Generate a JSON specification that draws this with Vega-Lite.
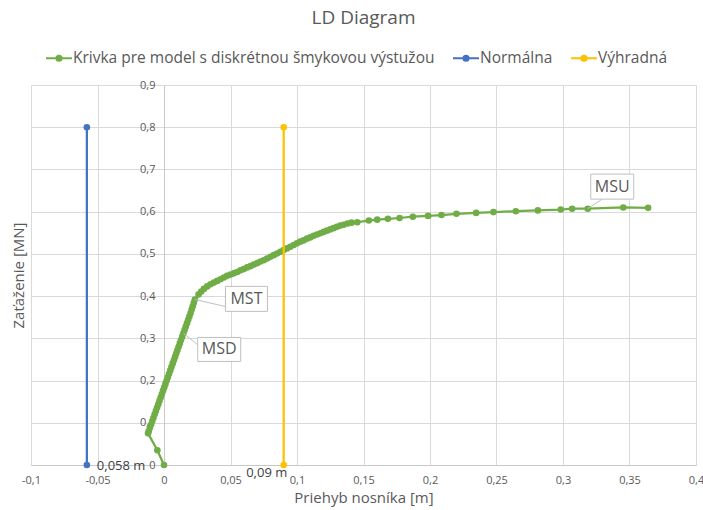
{
  "$schema": "https://vega.github.io/schema/vega-lite/v6.json",
  "autosize": {"type": "none"},
  "width": 665,
  "height": 380,
  "padding": {"left": 31, "top": 85, "right": 7, "bottom": 45},
  "background": "white",
  "title": {"text": "LD Diagram", "font": "Open Sans", "fontSize": 19, "fontWeight": "normal", "color": "#595959", "anchor": "middle", "frame": "group", "offset": 16},
  "config": {"view": {"stroke": null}, "font": "Open Sans"},
  "datasets": {
    "curve": [
      {"x": 0, "y": 0}, {"x": -0.005, "y": 0.035}, {"x": -0.012, "y": 0.075},
      {"x": -0.0115, "y": 0.080}, {"x": -0.0106, "y": 0.088}, {"x": -0.0097, "y": 0.096}, {"x": -0.0088, "y": 0.104},
      {"x": -0.0079, "y": 0.112}, {"x": -0.0070, "y": 0.120}, {"x": -0.0061, "y": 0.128}, {"x": -0.0052, "y": 0.136},
      {"x": -0.0043, "y": 0.144}, {"x": -0.0034, "y": 0.152}, {"x": -0.0025, "y": 0.160}, {"x": -0.0016, "y": 0.168},
      {"x": -0.0007, "y": 0.176}, {"x": 0.0002, "y": 0.184}, {"x": 0.0011, "y": 0.192}, {"x": 0.0020, "y": 0.200},
      {"x": 0.0029, "y": 0.208}, {"x": 0.0038, "y": 0.216}, {"x": 0.0047, "y": 0.224}, {"x": 0.0056, "y": 0.232},
      {"x": 0.0065, "y": 0.240}, {"x": 0.0074, "y": 0.248}, {"x": 0.0083, "y": 0.256}, {"x": 0.0092, "y": 0.264},
      {"x": 0.0101, "y": 0.272}, {"x": 0.0110, "y": 0.280}, {"x": 0.0119, "y": 0.288}, {"x": 0.0128, "y": 0.296},
      {"x": 0.0137, "y": 0.304}, {"x": 0.0146, "y": 0.312}, {"x": 0.0155, "y": 0.320}, {"x": 0.0164, "y": 0.328},
      {"x": 0.0173, "y": 0.336}, {"x": 0.0182, "y": 0.344}, {"x": 0.0191, "y": 0.352}, {"x": 0.0200, "y": 0.360},
      {"x": 0.0208, "y": 0.368}, {"x": 0.0216, "y": 0.376}, {"x": 0.0224, "y": 0.384}, {"x": 0.0232, "y": 0.392},
      {"x": 0.0260, "y": 0.404}, {"x": 0.0280, "y": 0.411}, {"x": 0.0300, "y": 0.417}, {"x": 0.0325, "y": 0.423},
      {"x": 0.0350, "y": 0.428}, {"x": 0.0375, "y": 0.432}, {"x": 0.0400, "y": 0.436}, {"x": 0.0425, "y": 0.440},
      {"x": 0.0450, "y": 0.444}, {"x": 0.0475, "y": 0.448}, {"x": 0.0500, "y": 0.451}, {"x": 0.0525, "y": 0.454},
      {"x": 0.0550, "y": 0.457}, {"x": 0.0575, "y": 0.461}, {"x": 0.0600, "y": 0.464}, {"x": 0.0625, "y": 0.468},
      {"x": 0.0650, "y": 0.471}, {"x": 0.0675, "y": 0.475}, {"x": 0.0700, "y": 0.478}, {"x": 0.0725, "y": 0.482},
      {"x": 0.0750, "y": 0.485}, {"x": 0.0775, "y": 0.489}, {"x": 0.0800, "y": 0.493}, {"x": 0.0825, "y": 0.497},
      {"x": 0.0850, "y": 0.501}, {"x": 0.0875, "y": 0.505}, {"x": 0.0900, "y": 0.509}, {"x": 0.0925, "y": 0.513},
      {"x": 0.0950, "y": 0.517}, {"x": 0.0975, "y": 0.521}, {"x": 0.1000, "y": 0.525}, {"x": 0.1025, "y": 0.529},
      {"x": 0.1050, "y": 0.532}, {"x": 0.1075, "y": 0.536}, {"x": 0.1100, "y": 0.539}, {"x": 0.1125, "y": 0.543},
      {"x": 0.1150, "y": 0.546}, {"x": 0.1175, "y": 0.549}, {"x": 0.1200, "y": 0.552}, {"x": 0.1225, "y": 0.555},
      {"x": 0.1250, "y": 0.558}, {"x": 0.1275, "y": 0.561}, {"x": 0.1300, "y": 0.564}, {"x": 0.1325, "y": 0.567},
      {"x": 0.1350, "y": 0.569}, {"x": 0.1380, "y": 0.572}, {"x": 0.1410, "y": 0.574}, {"x": 0.1453, "y": 0.575},
      {"x": 0.1540, "y": 0.579}, {"x": 0.1603, "y": 0.581}, {"x": 0.1683, "y": 0.583}, {"x": 0.1771, "y": 0.585},
      {"x": 0.1871, "y": 0.588}, {"x": 0.1986, "y": 0.590}, {"x": 0.2086, "y": 0.592}, {"x": 0.2199, "y": 0.595},
      {"x": 0.2347, "y": 0.597}, {"x": 0.2477, "y": 0.599}, {"x": 0.2645, "y": 0.601}, {"x": 0.2811, "y": 0.603},
      {"x": 0.2983, "y": 0.605}, {"x": 0.3069, "y": 0.607}, {"x": 0.3186, "y": 0.607}, {"x": 0.3453, "y": 0.610},
      {"x": 0.3640, "y": 0.609}
    ],
    "limits": [
      {"s": "Normálna", "x": -0.058, "y": 0}, {"s": "Normálna", "x": -0.058, "y": 0.8},
      {"s": "Výhradná", "x": 0.09, "y": 0}, {"s": "Výhradná", "x": 0.09, "y": 0.8}
    ],
    "ends": [
      {"t": "0,058 m", "x": -0.058, "y": 0},
      {"t": "0,09 m", "x": 0.09, "y": 0}
    ],
    "callouts": [
      {"t": "MST", "x": 0.0232, "y": 0.392},
      {"t": "MSD", "x": 0.0146, "y": 0.312},
      {"t": "MSU", "x": 0.3186, "y": 0.607}
    ]
  },
  "encoding": {
    "x": {
      "field": "x", "type": "quantitative",
      "scale": {"domain": [-0.1, 0.4], "nice": false, "zero": false},
      "axis": {
        "values": [-0.1, -0.05, 0, 0.05, 0.1, 0.15, 0.2, 0.25, 0.3, 0.35, 0.4],
        "labelExpr": "replace('' + datum.value, '.', ',')",
        "grid": true, "gridColor": "#D9D9D9", "gridWidth": 1,
        "domainColor": "#C8C8C8", "ticks": false, "tickSize": 0,
        "labelPadding": 9, "labelFont": "Open Sans", "labelFontSize": 11, "labelColor": "#595959",
        "labelFlush": false, "labelOverlap": false,
        "title": "Priehyb nosníka [m]", "titleFont": "Open Sans", "titleFontSize": 15, "titleFontWeight": "normal",
        "titleColor": "#595959", "titleBaseline": "middle", "titleY": 32
      }
    },
    "y": {
      "field": "y", "type": "quantitative",
      "scale": {"domain": [0, 0.9], "nice": false, "zero": false},
      "axis": {
        "values": [0, 0.1, 0.2, 0.3, 0.4, 0.5, 0.6, 0.7, 0.8, 0.9],
        "labelExpr": "replace('' + datum.value, '.', ',')",
        "offset": -133,
        "grid": true, "gridColor": "#D9D9D9", "gridWidth": 1,
        "domainColor": "#C8C8C8", "ticks": false, "tickSize": 0,
        "labelPadding": 9, "labelFont": "Open Sans", "labelFontSize": 11, "labelColor": "#595959",
        "labelFlush": false, "labelOverlap": false,
        "title": "Zaťaženie [MN]", "titleFont": "Open Sans", "titleFontSize": 15, "titleFontWeight": "normal",
        "titleColor": "#595959", "titleAngle": 270, "titleAlign": "center", "titleBaseline": "middle",
        "titleX": -146, "titleY": 190
      }
    }
  },
  "layer": [
    {
      "data": {"name": "curve"},
      "mark": {"type": "line", "strokeWidth": 2.25, "point": {"filled": true, "size": 44, "opacity": 1}},
      "encoding": {
        "order": {"value": null},
        "color": {
          "datum": "Krivka pre model s diskrétnou šmykovou výstužou", "type": "nominal",
          "scale": {"domain": ["Krivka pre model s diskrétnou šmykovou výstužou", "Normálna", "Výhradná"], "range": ["#70AD47", "#4472C4", "#FFC000"]},
          "legend": {
            "orient": "none", "legendX": 14, "legendY": -41, "direction": "horizontal", "title": null,
            "symbolType": "M-1,0L1,0M-0.2,0A0.2,0.2,0,1,0,0.2,0A0.2,0.2,0,1,0,-0.2,0Z",
            "symbolSize": 676, "symbolStrokeWidth": 2, "symbolOpacity": 1,
            "labelFont": "Open Sans", "labelFontSize": 15.5, "labelColor": "#595959", "labelLimit": 600,
            "columnPadding": 14, "labelOffset": 0, "padding": 0,
            "encode": {"symbols": {"update": {"fill": {"scale": "color", "field": "value"}, "stroke": {"scale": "color", "field": "value"}}}}
          }
        }
      }
    },
    {
      "data": {"name": "limits"},
      "mark": {"type": "line", "strokeWidth": 2.25, "point": {"filled": true, "size": 44, "opacity": 1}},
      "encoding": {
        "color": {
          "field": "s", "type": "nominal",
          "scale": {"domain": ["Krivka pre model s diskrétnou šmykovou výstužou", "Normálna", "Výhradná"], "range": ["#70AD47", "#4472C4", "#FFC000"]},
          "legend": {
            "orient": "none", "legendX": 14, "legendY": -41, "direction": "horizontal", "title": null,
            "symbolType": "M-1,0L1,0M-0.2,0A0.2,0.2,0,1,0,0.2,0A0.2,0.2,0,1,0,-0.2,0Z",
            "symbolSize": 676, "symbolStrokeWidth": 2, "symbolOpacity": 1,
            "labelFont": "Open Sans", "labelFontSize": 15.5, "labelColor": "#595959", "labelLimit": 600,
            "columnPadding": 14, "labelOffset": 0, "padding": 0,
            "encode": {"symbols": {"update": {"fill": {"scale": "color", "field": "value"}, "stroke": {"scale": "color", "field": "value"}}}}
          }
        },
        "detail": {"field": "s"}
      }
    },
    {
      "data": {"name": "ends"},
      "transform": [{"filter": "datum.t == '0,058 m'"}],
      "mark": {"type": "text", "align": "left", "baseline": "middle", "dx": 10, "dy": 1, "font": "Open Sans", "fontSize": 13, "color": "#404040"},
      "encoding": {"text": {"field": "t"}}
    },
    {
      "data": {"name": "ends"},
      "transform": [{"filter": "datum.t == '0,09 m'"}],
      "mark": {"type": "text", "align": "center", "baseline": "middle", "dx": -17, "dy": 8, "font": "Open Sans", "fontSize": 13, "color": "#404040"},
      "encoding": {"text": {"field": "t"}}
    },
    {
      "data": {"name": "callouts"},
      "transform": [{"filter": "datum.t == 'MST'"}],
      "mark": {"type": "rule", "color": "#BFBFBF", "strokeWidth": 1, "x2Offset": 30.6, "y2Offset": 7},
      "encoding": {"x2": {"field": "x"}, "y2": {"field": "y"}}
    },
    {
      "data": {"name": "callouts"},
      "transform": [{"filter": "datum.t == 'MST'"}],
      "mark": {"type": "rect", "width": 42, "height": 25, "xOffset": 51.6, "yOffset": -0.6, "fill": "white", "stroke": "#BFBFBF", "strokeWidth": 1}
    },
    {
      "data": {"name": "callouts"},
      "transform": [{"filter": "datum.t == 'MST'"}],
      "mark": {"type": "text", "align": "center", "baseline": "middle", "dx": 51.6, "dy": -0.6, "font": "Open Sans", "fontSize": 16, "color": "#595959"},
      "encoding": {"text": {"field": "t"}}
    },
    {
      "data": {"name": "callouts"},
      "transform": [{"filter": "datum.t == 'MSD'"}],
      "mark": {"type": "rule", "color": "#BFBFBF", "strokeWidth": 1, "x2Offset": 14.4, "y2Offset": 11.7},
      "encoding": {"x2": {"field": "x"}, "y2": {"field": "y"}}
    },
    {
      "data": {"name": "callouts"},
      "transform": [{"filter": "datum.t == 'MSD'"}],
      "mark": {"type": "rect", "width": 43, "height": 24, "xOffset": 35.8, "yOffset": 16.2, "fill": "white", "stroke": "#BFBFBF", "strokeWidth": 1}
    },
    {
      "data": {"name": "callouts"},
      "transform": [{"filter": "datum.t == 'MSD'"}],
      "mark": {"type": "text", "align": "center", "baseline": "middle", "dx": 35.8, "dy": 16.2, "font": "Open Sans", "fontSize": 16, "color": "#595959"},
      "encoding": {"text": {"field": "t"}}
    },
    {
      "data": {"name": "callouts"},
      "transform": [{"filter": "datum.t == 'MSU'"}],
      "mark": {"type": "rule", "color": "#BFBFBF", "strokeWidth": 1, "x2Offset": 14.8, "y2Offset": -9.8},
      "encoding": {"x2": {"field": "x"}, "y2": {"field": "y"}}
    },
    {
      "data": {"name": "callouts"},
      "transform": [{"filter": "datum.t == 'MSU'"}],
      "mark": {"type": "rect", "width": 43, "height": 25, "xOffset": 24.5, "yOffset": -22.1, "fill": "white", "stroke": "#BFBFBF", "strokeWidth": 1}
    },
    {
      "data": {"name": "callouts"},
      "transform": [{"filter": "datum.t == 'MSU'"}],
      "mark": {"type": "text", "align": "center", "baseline": "middle", "dx": 24.5, "dy": -22.1, "font": "Open Sans", "fontSize": 16, "color": "#595959"},
      "encoding": {"text": {"field": "t"}}
    }
  ]
}
